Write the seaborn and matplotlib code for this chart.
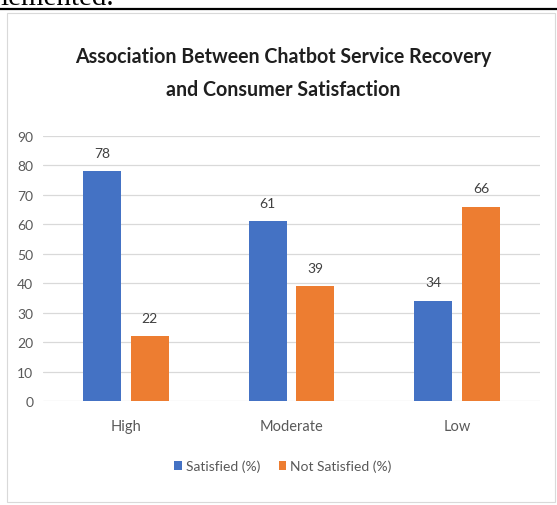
import matplotlib
matplotlib.use("Agg")
import matplotlib.pyplot as plt
import seaborn as sns
import pandas as pd
from matplotlib.patches import Rectangle
from matplotlib.lines import Line2D
from matplotlib.font_manager import FontProperties
from matplotlib.textpath import TextPath

categories = ["High", "Moderate", "Low"]
satisfied = [78, 61, 34]
not_satisfied = [22, 39, 66]
series_names = ["Satisfied (%)", "Not Satisfied (%)"]
y_ticks = [0, 10, 20, 30, 40, 50, 60, 70, 80, 90]
title_lines = ["Association Between Chatbot Service Recovery", "and Consumer Satisfaction"]

df = pd.DataFrame({
    "Recovery": categories * 2,
    "Value": satisfied + not_satisfied,
    "Series": [series_names[0]] * 3 + [series_names[1]] * 3,
})

sns.set_theme(style="white")
FAMILY = "Lato"
plt.rcParams["font.family"] = [FAMILY, "DejaVu Sans"]

W, H = 557, 506
DPI = 100


def size_for(text, width_px, weight="normal"):
    """Font size (pt) at which `text` spans `width_px` pixels."""
    prop = FontProperties(family=FAMILY, weight=weight)
    w = TextPath((0, 0), text, size=10, prop=prop).get_extents().width
    return 10 * width_px / (w * DPI / 72)


fig = plt.figure(figsize=(W / DPI, H / DPI), dpi=DPI)
fig.patch.set_facecolor("white")

# page text cut off above the figure and the rule beneath it
fig.text(0.0, 1 - 5 / H, "lemented.", family="Liberation Serif", fontsize=21,
         color="black", ha="left", va="baseline")
fig.add_artist(Line2D([0, 1], [1 - 10 / H, 1 - 10 / H], color="black", lw=1.6))

# chart frame
fig.add_artist(Rectangle((7 / W, 3 / H), 548 / W, (H - 14 - 3) / H, fill=False,
                         edgecolor="#d9d9d9", lw=0.8))

ax = fig.add_axes([43 / W, 1 - 402 / H, (540 - 43) / W, (402 - 137) / H])
sns.barplot(data=df, x="Recovery", y="Value", hue="Series", order=categories,
            hue_order=series_names, palette=["#4472C4", "#ED7D31"],
            saturation=1, width=0.575, gap=0.2, linewidth=0, ax=ax, legend=True)

for cont in ax.containers:
    ax.bar_label(cont, padding=9, fontsize=10, color="#404040")

ax.set_ylim(0, 90)
ax.set_yticks(y_ticks)
ax.set_xlabel("")
ax.set_ylabel("")
ax.grid(axis="y", color="#d9d9d9", lw=0.9)
ax.set_axisbelow(True)
for s in ax.spines.values():
    s.set_visible(False)
ax.tick_params(axis="y", labelsize=10, labelcolor="#595959", pad=7, length=0)
ax.tick_params(axis="x", labelsize=10.5, labelcolor="#595959", pad=13, length=0)

ax.legend(loc="center", bbox_to_anchor=(283 / W, 1 - 467 / H),
          bbox_transform=fig.transFigure, ncol=2, frameon=False,
          fontsize=10, handlelength=0.55, handleheight=0.55,
          handletextpad=0.3, columnspacing=1.3, labelcolor="#595959")

title_size = size_for(title_lines[0], 415, weight="bold")
fig.text(283 / W, 1 - 57 / H, title_lines[0],
         ha="center", va="center", fontsize=title_size, fontweight="bold", color="#1f1f1f")
fig.text(283 / W, 1 - 90 / H, title_lines[1],
         ha="center", va="center", fontsize=title_size, fontweight="bold", color="#1f1f1f")

fig.savefig("out.png", dpi=DPI)
